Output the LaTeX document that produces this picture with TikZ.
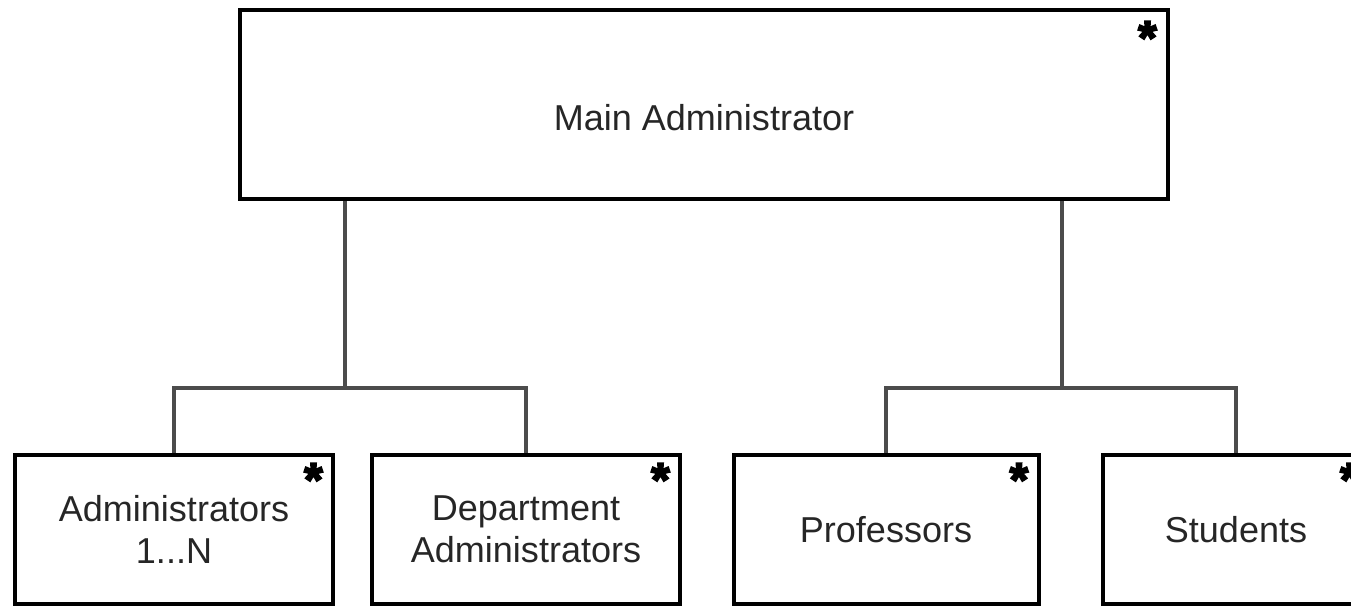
\documentclass[tikz,border=0pt]{standalone}
\usepackage{fontspec}
\setmainfont{Liberation Sans}
\newfontfamily\starfont[FakeBold=4]{Liberation Sans Bold}
\usetikzlibrary{positioning}

\tikzset{
  box/.style={draw=black, line width=0.08cm, inner sep=0pt},
  link/.style={draw=black!70, line width=0.07cm},
  corner/.style={anchor=north east, inner sep=0pt, font=\starfont\fontsize{27}{27}\selectfont},
  lbl/.style={font=\fontsize{20.5}{24}\selectfont, text=black!85, align=center}
}

\begin{document}
\begin{tikzpicture}
  \useasboundingbox (0,0) rectangle (27.02,-12.12);

  % top box
  \node[box, minimum width=18.56cm, minimum height=3.78cm] (main) at (14.08,-2.09) {};
  \node[lbl] (maintext) at ([yshift=-0.26cm]main.center) {Main Administrator};
  \node[corner] (mainstar) at ([xshift=-0.26cm,yshift=-0.26cm]main.north east) {*};

  % second row
  \node[box, lbl, minimum width=6.36cm, minimum height=2.98cm] (admins) at (3.48,-10.59) {Administrators\\1...N};
  \node[box, lbl, minimum width=6.16cm, minimum height=2.98cm] (deptadmins) at (10.52,-10.59) {Department\\Administrators};
  \node[box, lbl, minimum width=6.1cm, minimum height=2.98cm] (profs) at (17.72,-10.59) {Professors};
  \node[box, lbl, minimum width=5.32cm, minimum height=2.98cm] (students) at (24.72,-10.59) {Students};

  \node[corner] (adminsstar) at ([xshift=-0.24cm,yshift=-0.2cm]admins.north east) {*};
  \node[corner] (deptstar) at ([xshift=-0.24cm,yshift=-0.2cm]deptadmins.north east) {*};
  \node[corner] (profsstar) at ([xshift=-0.24cm,yshift=-0.2cm]profs.north east) {*};
  \node[corner] (studentsstar) at ([xshift=-0.24cm,yshift=-0.2cm]students.north east) {*};

  % connectors
  \coordinate (ljoin) at (6.9,-7.76);
  \coordinate (rjoin) at (21.24,-7.76);
  \draw[link] (main.south -| ljoin) -- (ljoin);
  \draw[link] (main.south -| rjoin) -- (rjoin);
  \draw[link] (admins.north) |- (ljoin) -| (deptadmins.north);
  \draw[link] (profs.north) |- (rjoin) -| (students.north);
\end{tikzpicture}
\end{document}
